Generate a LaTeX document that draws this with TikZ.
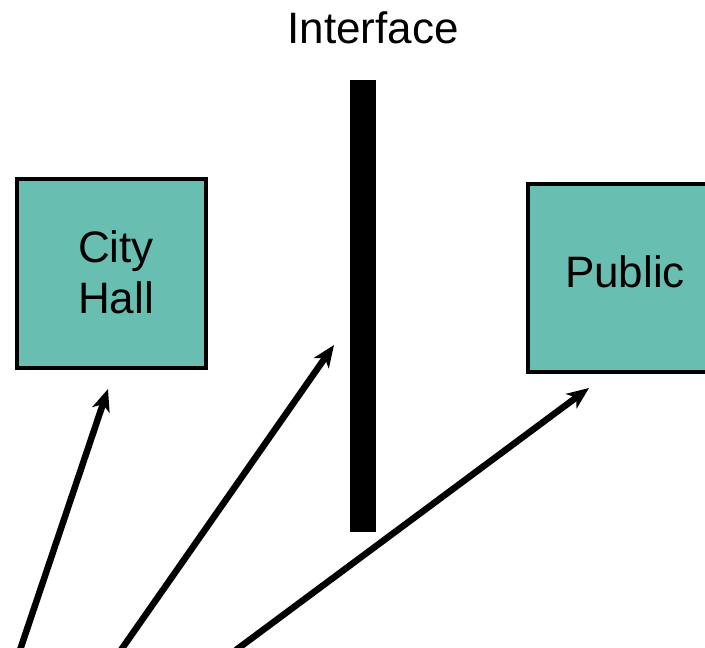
\documentclass[tikz,border=0pt]{standalone}
\usepackage{fontspec}
\setmainfont{Liberation Sans}
\usetikzlibrary{arrows.meta}
\definecolor{boxteal}{RGB}{104, 191, 177}

\begin{document}
\begin{tikzpicture}[x=1pt, y=-1pt,
    party/.style={draw=black, line width=4pt, fill=boxteal, align=center,
        font=\fontsize{44}{51}\selectfont, inner sep=0pt},
    pointer/.style={line width=6.5pt, -{Stealth[length=22pt, width=18pt, inset=6pt]}}]
    \useasboundingbox (0,0) rectangle (705,648);

    \node[font=\fontsize{44}{51}\selectfont] (iface) at (373,28) {Interface};
    \fill (350,80) rectangle (376,532);
    \coordinate (wall) at (334,345);

    \node[party, minimum width=189pt, minimum height=189pt] (hall) at (111.5,273.5) {};
    \node[font=\fontsize{44}{51}\selectfont, align=center] (halltext) at (116,272) {City\\Hall};
    \node[party, minimum width=200pt, minimum height=188pt] (public) at (628,278) {};
    \node[font=\fontsize{44}{51}\selectfont] (publictext) at (625,272) {Public};

    \coordinate (hallin) at (108,389);
    \coordinate (pubin) at (589,388);

    \coordinate (s1) at (20,650);
    \coordinate (s2) at (121,650);
    \coordinate (s3) at (236,650);

    \draw[pointer] (s1) -- (hallin);
    \draw[pointer] (s2) -- (wall);
    \draw[pointer] (s3) -- (pubin);
\end{tikzpicture}
\end{document}
